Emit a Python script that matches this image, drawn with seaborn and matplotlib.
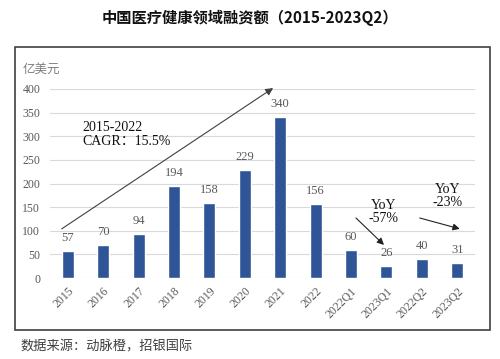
import matplotlib
matplotlib.use("Agg")
import matplotlib.pyplot as plt
import seaborn as sns
import pandas as pd
from matplotlib.patches import Rectangle

categories = ["2015", "2016", "2017", "2018", "2019", "2020", "2021", "2022",
              "2022Q1", "2023Q1", "2022Q2", "2023Q2"]
values = [57, 70, 94, 194, 158, 229, 340, 156, 60, 26, 40, 31]
yticks = [0, 50, 100, 150, 200, 250, 300, 350, 400]

title = "中国医疗健康领域融资额（2015-2023Q2）"
unit = "亿美元"
source = "数据来源：动脉橙，招银国际"

sns.set_theme(style="white")
plt.rcParams['font.family'] = ['Liberation Serif', 'Noto Sans CJK SC', 'DejaVu Sans']

df = pd.DataFrame({"cat": categories, "val": values})

fig = plt.figure(figsize=(5, 3.59), dpi=100)
ax = fig.add_axes([0.1, 0.2256, 0.85, 0.5265])

sns.barplot(data=df, x="cat", y="val", color="#2F5597", width=0.34,
            saturation=1, ax=ax)

ax.set_ylim(0, 400)
ax.set_xlim(-0.5, 11.5)
ax.set_yticks(yticks)
ax.set_yticklabels([str(t) for t in yticks], fontsize=8.5, color="#595959")
ax.tick_params(axis='y', length=0, pad=7)
ax.tick_params(axis='x', length=0, pad=5)
ax.set_xticks(range(len(categories)))
ax.set_xticklabels(categories, rotation=45, ha='right', rotation_mode='anchor',
                   fontsize=8.5, color="#595959")
ax.set_xlabel("")
ax.set_ylabel("")
ax.yaxis.grid(True, color="#D9D9D9", linewidth=0.8)
ax.set_axisbelow(True)
for s in ax.spines.values():
    s.set_visible(False)

for i, v in enumerate(values):
    ax.annotate(str(v), (i, v), xytext=(0, 5), textcoords="offset points",
                ha='center', va='bottom', fontsize=9, color="#595959")

# annotations
ax.annotate("", xy=(5.8, 402), xytext=(-0.17, 104), annotation_clip=False,
            arrowprops=dict(arrowstyle="-|>", color="#404040", lw=0.8,
                            mutation_scale=11, shrinkA=0, shrinkB=0))
ax.text(0.42, 304, "2015-2022\nCAGR：15.5%", fontsize=10, color="#111111",
        ha='left', va='center', linespacing=1.1)

ax.annotate("", xy=(8.93, 70), xytext=(8.14, 127), annotation_clip=False,
            arrowprops=dict(arrowstyle="-|>", color="#222222", lw=0.8,
                            mutation_scale=10, shrinkA=0, shrinkB=0))
ax.text(8.93, 140, "YoY\n-57%", fontsize=10, color="#111111",
        ha='center', va='center', linespacing=1.05)

ax.annotate("", xy=(11.07, 104), xytext=(9.94, 127), annotation_clip=False,
            arrowprops=dict(arrowstyle="-|>", color="#222222", lw=0.8,
                            mutation_scale=10, shrinkA=0, shrinkB=0))
ax.text(10.73, 174, "YoY\n-23%", fontsize=10, color="#111111",
        ha='center', va='center', linespacing=1.05)

# frame, title, unit, source
fig.patches.append(Rectangle((0.03, 0.081), 0.95, 0.788, transform=fig.transFigure,
                             fill=False, edgecolor="#404040", linewidth=1.2))
fig.text(0.5, 0.95, title, ha='center', va='center', fontsize=11,
         fontweight='bold', family=['Noto Sans CJK SC'], color="#111111")
fig.text(0.045, 0.808, unit, ha='left', va='center', fontsize=9,
         family=['Noto Sans CJK SC'], color="#7F7F7F")
fig.text(0.04, 0.033, source, ha='left', va='center', fontsize=9.5,
         family=['Noto Sans CJK SC'], color="#404040")

fig.savefig("out.png", dpi=100)
